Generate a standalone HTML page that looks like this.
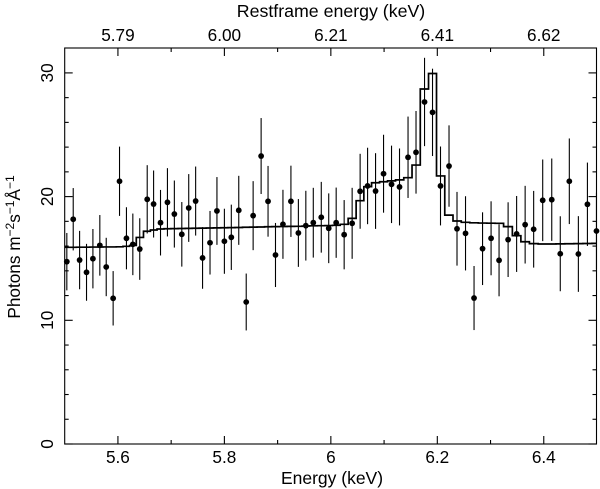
<!DOCTYPE html>
<html>
<head>
<meta charset="utf-8">
<title>Photon spectrum</title>
<style>
html,body{margin:0;padding:0;background:#fff;}
svg{display:block;}
text{font-family:"Liberation Sans",Arial,sans-serif;fill:#000;}
</style>
</head>
<body>
<svg id="chart" xmlns="http://www.w3.org/2000/svg" width="600" height="489" viewBox="0 0 600 489">
  <rect x="0" y="0" width="600" height="489" fill="#fff"/>
  <g id="errors"></g>
  <path id="model" fill="none" stroke="#000" stroke-width="1.7" stroke-linejoin="miter"/>
  <g id="points"></g>
  <g id="ticks"></g>
  <rect id="frame" fill="none" stroke="#000" stroke-width="1.1"/>
  <g id="labels" font-size="17.2"></g>
  <text x="331" y="17" font-size="17.75" text-anchor="middle">Restframe energy (keV)</text>
  <text x="332" y="484" font-size="17.5" text-anchor="middle">Energy (keV)</text>
  <text transform="translate(20,247) rotate(-90)" font-size="17.2" text-anchor="middle">Photons m<tspan font-size="12" dy="-6">−2</tspan><tspan dy="6">s</tspan><tspan font-size="12" dy="-6">−1</tspan><tspan dy="6">Å</tspan><tspan font-size="12" dy="-6">−1</tspan></text>
</svg>
<script>
var energies = [5.504,5.516,5.528,5.541,5.553,5.566,5.578,5.591,5.603,5.616,5.628,5.641,5.655,5.667,5.680,5.693,5.706,5.720,5.733,5.746,5.759,5.773,5.786,5.800,5.813,5.827,5.841,5.854,5.869,5.882,5.896,5.910,5.925,5.939,5.953,5.967,5.982,5.996,6.010,6.025,6.040,6.055,6.069,6.084,6.099,6.114,6.129,6.145,6.160,6.176,6.191,6.206,6.222,6.237,6.253,6.269,6.285,6.301,6.316,6.333,6.349,6.365,6.381,6.398,6.415,6.431,6.448,6.465,6.482,6.499];
var fluxes = [14.74,18.17,14.87,13.88,14.98,16.06,14.31,11.78,21.24,16.63,16.14,15.76,19.78,19.40,17.89,19.54,18.59,16.95,19.08,19.64,15.04,16.27,18.84,16.39,16.71,18.89,11.48,18.46,23.28,19.62,15.28,17.76,19.62,17.06,17.65,17.89,18.33,17.44,17.89,16.92,17.84,20.43,20.86,20.45,21.85,20.99,20.78,23.18,23.58,27.65,26.81,20.86,22.47,17.40,17.03,11.80,15.79,16.63,14.85,16.52,16.98,17.73,17.36,19.70,19.75,15.38,21.24,15.36,19.38,17.22];
var errors = [2.32,2.52,2.36,2.30,2.40,2.45,2.36,2.20,2.80,2.51,2.49,2.49,2.76,2.71,2.65,2.76,2.71,2.61,2.74,2.79,2.49,2.57,2.74,2.63,2.64,2.79,2.30,2.79,3.07,2.86,2.59,2.79,2.88,2.74,2.82,2.82,2.86,2.82,2.84,2.80,2.87,3.03,3.09,3.06,3.15,3.13,3.11,3.29,3.34,3.57,3.53,3.19,3.29,2.98,3.00,2.59,2.94,2.99,2.91,3.02,3.07,3.14,3.10,3.30,3.33,3.03,3.46,3.06,3.37,3.10];
var modelFlux = [15.90,15.90,15.91,15.91,15.92,15.92,15.93,15.93,15.94,15.98,16.05,16.70,17.20,17.30,17.38,17.40,17.41,17.42,17.43,17.44,17.45,17.46,17.47,17.48,17.49,17.50,17.52,17.53,17.54,17.56,17.57,17.58,17.59,17.60,17.62,17.64,17.65,17.66,17.68,17.76,18.24,19.67,20.80,21.12,21.20,21.27,21.35,21.53,22.55,28.70,29.95,21.67,18.50,18.03,17.92,17.88,17.86,17.85,17.84,17.57,16.84,16.35,16.20,16.17,16.17,16.18,16.19,16.20,16.21,16.22];
var bottomMajor = [5.6,5.8,6,6.2,6.4];
var bottomMajorLabels = ["5.6","5.8","6","6.2","6.4"];
var bottomMinor = [5.7,5.9,6.1,6.3];
var topMajorLabels = ["5.79","6.00","6.21","6.41","6.62"];
var yMajor = [0,10,20,30];
var yMinor = [2,4,6,8,12,14,16,18,22,24,26,28];

var X0 = 64.7, X1 = 597, Y0 = 444, YTOP = 48;
var NS = "http://www.w3.org/2000/svg";
function sx(v){ return X0 + (v - 5.5) / 1.0 * (X1 - X0); }
function sy(v){ return Y0 - v * 12.37; }
function make(tag, parent, attrs){
  var el = document.createElementNS(NS, tag);
  for (var k in attrs) el.setAttribute(k, attrs[k]);
  parent.appendChild(el);
  return el;
}
var frame = document.getElementById("frame");
frame.setAttribute("x", X0);
frame.setAttribute("y", YTOP);
frame.setAttribute("width", X1 - X0 - 0.5);
frame.setAttribute("height", Y0 - YTOP);

var errG = document.getElementById("errors");
var ptG = document.getElementById("points");
energies.forEach(function(e, i){
  var x = sx(e);
  var low = Math.min(sy(fluxes[i] - errors[i]), Y0);
  var bar = make("line", errG, {x1:x, x2:x, y1:sy(fluxes[i] + errors[i]), y2:low, stroke:"#000", "stroke-width":1.1});
  
  
  var dot = make("circle", ptG, {cx:x, cy:sy(fluxes[i]), r:2.9, fill:"#000"});
  
  
});

var d = "";
modelFlux.forEach(function(m, i){
  var left = i === 0 ? 5.5 : (energies[i - 1] + energies[i]) / 2;
  var right = i === energies.length - 1 ? 6.5 : (energies[i] + energies[i + 1]) / 2;
  d += (i === 0 ? "M" : "L") + sx(left).toFixed(2) + " " + sy(m).toFixed(2) + "L" + sx(right).toFixed(2) + " " + sy(m).toFixed(2);
});
document.getElementById("model").setAttribute("d", d);

var tickG = document.getElementById("ticks");
function tick(x1, y1, x2, y2){
  var t = make("line", tickG, {x1:x1, y1:y1, x2:x2, y2:y2, stroke:"#000", "stroke-width":1.1});
  
  
}
bottomMajor.forEach(function(v){
  tick(sx(v), Y0, sx(v), Y0 - 8);
  tick(sx(v), YTOP, sx(v), YTOP + 8);
});
bottomMinor.forEach(function(v){
  tick(sx(v), Y0, sx(v), Y0 - 4);
  tick(sx(v), YTOP, sx(v), YTOP + 4);
});
yMajor.forEach(function(v){
  tick(X0, sy(v), X0 + 8, sy(v));
  tick(X1 - 0.5, sy(v), X1 - 8.5, sy(v));
});
yMinor.forEach(function(v){
  tick(X0, sy(v), X0 + 4, sy(v));
  tick(X1 - 0.5, sy(v), X1 - 4.5, sy(v));
});

var labG = document.getElementById("labels");
bottomMajor.forEach(function(v, i){
  var b = make("text", labG, {x:sx(v), y:463, "text-anchor":"middle"});
  b.textContent = bottomMajorLabels[i];
  
  
  var t = make("text", labG, {x:sx(v), y:41, "text-anchor":"middle"});
  t.textContent = topMajorLabels[i];
  
  
});
yMajor.forEach(function(v){
  var l = make("text", labG, {transform:"translate(53," + sy(v) + ") rotate(-90)", "text-anchor":"middle"});
  l.textContent = String(v);
  
  
});
</script>
</body>
</html>
